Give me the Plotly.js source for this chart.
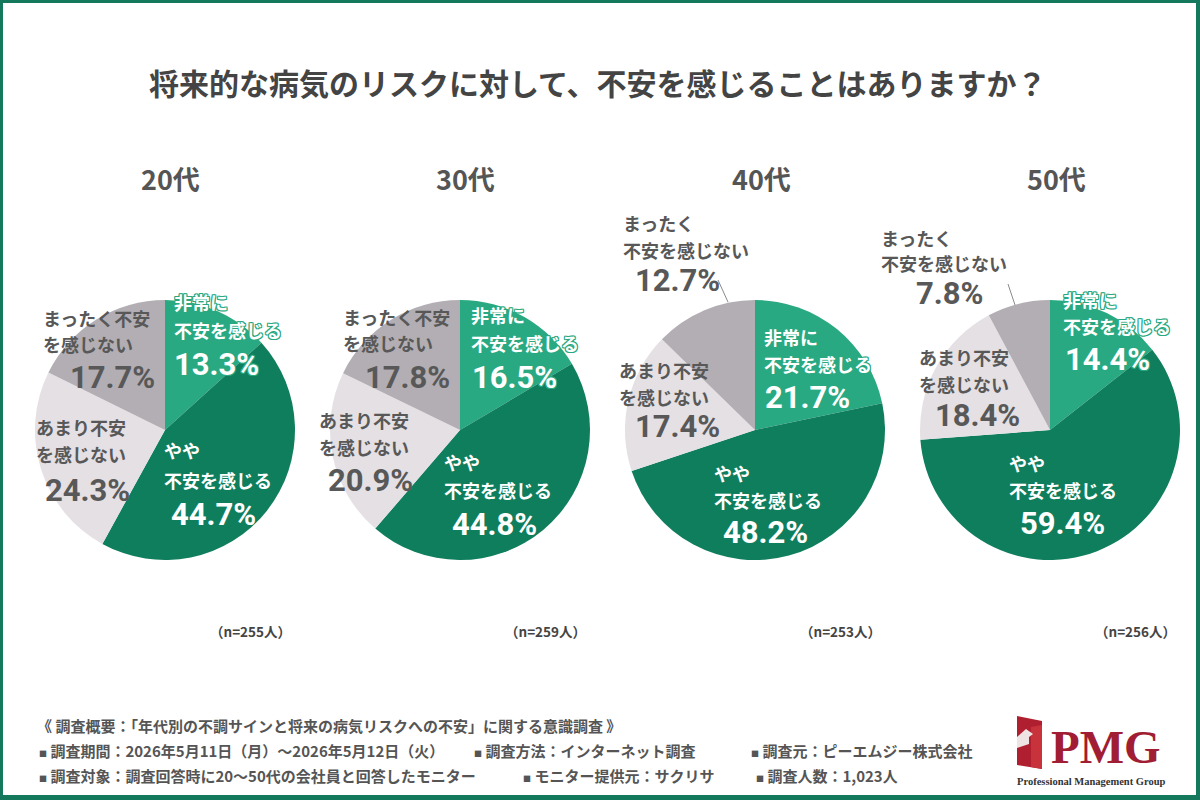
<!DOCTYPE html>
<html>
<head>
<meta charset="utf-8">
<script src="https://cdn.plot.ly/plotly-3.0.1.min.js"></script>
<style>
  html, body { margin: 0; padding: 0; background: #fff; }
  #chart { width: 1200px; height: 800px; }
</style>
</head>
<body>
<div id="chart"></div>
<script>
// ---- survey data ----
const ageGroups = ['20代', '30代', '40代', '50代'];
const sampleSizes = [255, 259, 253, 256];
const answerCategories = ['非常に不安を感じる', 'やや不安を感じる', 'あまり不安を感じない', 'まったく不安を感じない'];
const veryAnxious = [13.3, 16.5, 21.7, 14.4];
const somewhatAnxious = [44.7, 44.8, 48.2, 59.4];
const notVeryAnxious = [24.3, 20.9, 17.4, 18.4];
const notAnxiousAtAll = [17.7, 17.8, 12.7, 7.8];

const chartTitle = '将来的な病気のリスクに対して、不安を感じることはありますか？';
const surveyHeading = '《 調査概要：「年代別の不調サインと将来の病気リスクへの不安」に関する意識調査 》';
const surveyItems = [
  ['調査期間', '2026年5月11日（月）～2026年5月12日（火）'],
  ['調査方法', 'インターネット調査'],
  ['調査元', 'ピーエムジー株式会社'],
  ['調査対象', '調査回答時に20～50代の会社員と回答したモニター'],
  ['モニター提供元', 'サクリサ'],
  ['調査人数', '1,023人']
];

// ---- styling ----
const W = 1200, H = 800;
const X = v => v / W;
const Y = v => 1 - v / H;
const sliceColors = ['#29a981', '#0f7e5d', '#e4e0e4', '#b2aeb3'];
const frameColor = '#14795c';
const grayText = '#585858';
const jpFont = '"Noto Sans CJK JP", "Noto Sans", sans-serif';
const numFont = 'Roboto, "Noto Sans", sans-serif';

const pieCenterX = [165, 460, 755, 1050];
const pieCenterY = 430;
const pieRadius = 130;

// where each slice's caption sits (pixel positions on the page)
const labelLayout = [
  [ // 20代
    { lines: ['非常に', '不安を感じる'], x: 173, y: [302, 330], px: 173, pa: 'left', py: 364, light: true, outline: true },
    { lines: ['やや', '不安を感じる'], x: 163, y: [450, 480], px: 170, pa: 'left', py: 514, light: true },
    { lines: ['あまり不安', 'を感じない'], x: 35, y: [427, 454], px: 44, pa: 'left', py: 490 },
    { lines: ['まったく不安', 'を感じない'], x: 42, y: [318, 344], px: 156, pa: 'right', py: 378 }
  ],
  [ // 30代
    { lines: ['非常に', '不安を感じる'], x: 470, y: [315, 343], px: 471, pa: 'left', py: 378, light: true, outline: true },
    { lines: ['やや', '不安を感じる'], x: 443, y: [462, 490], px: 451, pa: 'left', py: 524, light: true },
    { lines: ['あまり不安', 'を感じない'], x: 318, y: [420, 447], px: 327, pa: 'left', py: 481 },
    { lines: ['まったく不安', 'を感じない'], x: 342, y: [317, 343], px: 451, pa: 'right', py: 378 }
  ],
  [ // 40代
    { lines: ['非常に', '不安を感じる'], x: 763, y: [337, 364], px: 764, pa: 'left', py: 397, light: true, outline: true },
    { lines: ['やや', '不安を感じる'], x: 713, y: [473, 500], px: 722, pa: 'left', py: 532, light: true },
    { lines: ['あまり不安', 'を感じない'], x: 618, y: [370, 397], px: 634, pa: 'left', py: 427 },
    { lines: ['まったく', '不安を感じない'], x: 622, y: [223, 250], px: 634, pa: 'left', py: 280 }
  ],
  [ // 50代
    { lines: ['非常に', '不安を感じる'], x: 1062, y: [300, 326], px: 1064, pa: 'left', py: 359, light: true, outline: true },
    { lines: ['やや', '不安を感じる'], x: 1008, y: [463, 490], px: 1019, pa: 'left', py: 523, light: true },
    { lines: ['あまり不安', 'を感じない'], x: 918, y: [357, 384], px: 934, pa: 'left', py: 415 },
    { lines: ['まったく', '不安を感じない'], x: 880, y: [238, 263], px: 915, pa: 'left', py: 294 }
  ]
];

// leader lines for the small outside captions [x0, y0, x1, y1]
const leaders = [null, null, [718, 280, 728, 302], [1008, 284, 1015, 305]];

// ---- traces ----
const seriesByGroup = ageGroups.map((_, i) => [veryAnxious[i], somewhatAnxious[i], notVeryAnxious[i], notAnxiousAtAll[i]]);

const traces = ageGroups.map((age, i) => ({
  type: 'pie',
  name: age,
  labels: answerCategories,
  values: seriesByGroup[i],
  sort: false,
  direction: 'clockwise',
  rotation: 0,
  hole: 0,
  textinfo: 'none',
  hoverinfo: 'label+percent',
  showlegend: false,
  marker: { colors: sliceColors, line: { width: 0 } },
  domain: {
    x: [X(pieCenterX[i] - pieRadius), X(pieCenterX[i] + pieRadius)],
    y: [Y(pieCenterY + pieRadius), Y(pieCenterY - pieRadius)]
  }
}));

// ---- annotations ----
const annotations = [];
function note(text, x, y, font, anchor) {
  annotations.push({
    text: text, x: X(x), y: Y(y), xref: 'paper', yref: 'paper',
    xanchor: anchor || 'left', yanchor: 'middle', showarrow: false,
    borderpad: 0, font: font
  });
}

note(chartTitle, 598, 82, { family: jpFont, size: 30, color: '#444', weight: 700 }, 'center');

const outline = c => `1px 1px 0 ${c}, -1px -1px 0 ${c}, 1px -1px 0 ${c}, -1px 1px 0 ${c}, 0 1px 0 ${c}, 0 -1px 0 ${c}, 1px 0 0 ${c}, -1px 0 0 ${c}`;

ageGroups.forEach((age, i) => {
  note(age, pieCenterX[i] + 6, 178, { family: jpFont, size: 27, color: '#555', weight: 700 }, 'center');
  note(`（n=${sampleSizes[i]}人）`, pieCenterX[i] + 85, 631, { family: jpFont, size: 13.5, color: '#444', weight: 700 }, 'center');

  labelLayout[i].forEach((lab, k) => {
    const color = lab.light ? '#ffffff' : grayText;
    const shadow = lab.outline ? outline(sliceColors[0]) : 'none';
    lab.lines.forEach((line, j) => {
      note(line, lab.x, lab.y[j], { family: jpFont, size: 18, color: color, weight: 700, shadow: shadow }, 'left');
    });
    note(seriesByGroup[i][k].toFixed(1) + '%', lab.px, lab.py,
      { family: numFont, size: 31, color: color, weight: 700, shadow: shadow }, lab.pa);
  });
});

// survey summary block
const bullet = '<span style="font-size:8px">■</span> ';
note(surveyHeading, 36, 725, { family: jpFont, size: 15, color: '#555', weight: 700 }, 'left');
const itemPos = [[38, 750], [473, 750], [750, 750], [38, 775], [522, 775], [755, 775]];
surveyItems.forEach((item, i) => {
  note(bullet + item[0] + '：' + item[1], itemPos[i][0], itemPos[i][1],
    { family: jpFont, size: 15, color: '#555', weight: 700 }, 'left');
});

// company mark
note('PMG', 1050, 747, { family: '"Liberation Serif", "DejaVu Serif", serif', size: 47, color: '#a11d33', weight: 700 }, 'left');
note('Professional Management Group', 1016, 781, { family: '"Liberation Serif", "DejaVu Serif", serif', size: 10.5, color: '#333', weight: 700 }, 'left');

// ---- shapes ----
const pathOf = pts => 'M' + pts.map(p => X(p[0]) + ',' + Y(p[1])).join(' L') + ' Z';
const rectPx = (x0, y0, x1, y1, fill) => ({
  type: 'rect', xref: 'paper', yref: 'paper', layer: 'above',
  x0: X(x0), x1: X(x1), y0: Y(y1), y1: Y(y0),
  fillcolor: fill, line: { width: 0 }
});

const shapes = [
  rectPx(0, 0, 1200, 3, frameColor),
  rectPx(0, 0, 3, 800, frameColor),
  rectPx(1196, 0, 1200, 800, frameColor),
  rectPx(0, 795, 1200, 800, frameColor),
  { type: 'path', xref: 'paper', yref: 'paper', path: pathOf([[1017, 716], [1042, 721], [1042, 769], [1017, 765]]),
    fillcolor: '#b01f2f', line: { width: 0 } },
  { type: 'path', xref: 'paper', yref: 'paper', path: pathOf([[1031, 727], [1042, 725], [1042, 769], [1031, 767]]),
    fillcolor: '#c8323b', line: { width: 0 } },
  { type: 'path', xref: 'paper', yref: 'paper', path: pathOf([[1017, 737], [1026, 729], [1033, 734], [1029, 737], [1029, 744], [1017, 748]]),
    fillcolor: '#efe4e4', line: { width: 0 } }
];

leaders.forEach(l => {
  if (!l) return;
  shapes.push({ type: 'line', xref: 'paper', yref: 'paper', x0: X(l[0]), y0: Y(l[1]), x1: X(l[2]), y1: Y(l[3]),
    line: { color: '#8a8a8a', width: 1 } });
});

const layout = {
  width: W, height: H,
  margin: { l: 0, r: 0, t: 0, b: 0 },
  paper_bgcolor: '#ffffff',
  plot_bgcolor: '#ffffff',
  showlegend: false,
  annotations: annotations,
  shapes: shapes
};

Plotly.newPlot('chart', traces, layout, { displayModeBar: false, responsive: false });
</script>
</body>
</html>
